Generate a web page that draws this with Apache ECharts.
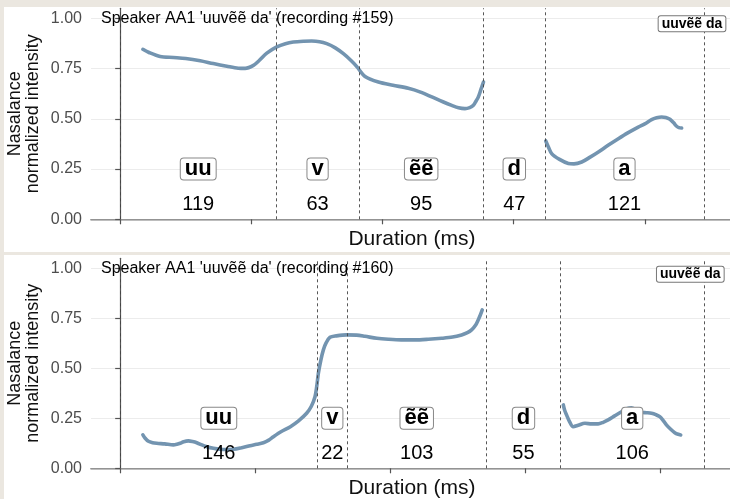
<!DOCTYPE html>
<html>
<head>
<meta charset="utf-8">
<script src="https://cdn.jsdelivr.net/npm/echarts@6/dist/echarts.min.js"></script>
<style>
html,body{margin:0;padding:0;background:#ebe7e0;}
#chart{width:730px;height:499px;}
</style>
</head>
<body>
<div id="chart"></div>
<script>
// ---------- data ----------
const segments = ['uu', 'v', 'ẽẽ', 'd', 'a'];
const p1Durations = [119, 63, 95, 47, 121];
const p2Durations = [146, 22, 103, 55, 106];
const p1Title = "Speaker AA1 'uuvẽẽ da' (recording #159)";
const p2Title = "Speaker AA1 'uuvẽẽ da' (recording #160)";
const wordLabel = 'uuvẽẽ da';
const yTicks = [0, 0.25, 0.5, 0.75, 1];
const xTicks = [0, 100, 200, 300, 400];

// panel 1 curve (ms, normalized intensity)
const p1aTimes = [17.3, 22, 30.5, 40.6, 50, 61, 71, 81.3, 90, 95.3, 101.6, 106, 111.8, 119.4, 126, 132, 140, 146, 152, 157.5, 164, 170.2, 176, 180.4, 186.7, 196.9, 208, 219.7, 229, 237.6, 246, 252.8, 258, 262.9, 266.5, 269.3, 271.5, 273.1, 275, 277];
const p1aValues = [0.846, 0.83, 0.81, 0.805, 0.80, 0.789, 0.775, 0.762, 0.752, 0.751, 0.766, 0.79, 0.827, 0.858, 0.874, 0.882, 0.886, 0.887, 0.884, 0.874, 0.853, 0.824, 0.79, 0.76, 0.711, 0.683, 0.667, 0.652, 0.633, 0.609, 0.585, 0.567, 0.555, 0.551, 0.556, 0.567, 0.59, 0.609, 0.645, 0.683];
const p1bTimes = [324.5, 326.5, 329, 335, 341.7, 346, 351.9, 358, 364.6, 372, 379.8, 387, 395, 400, 405.2, 409, 412.8, 416, 419.2, 422, 424.3, 426, 428.1];
const p1bValues = [0.39, 0.36, 0.327, 0.298, 0.278, 0.276, 0.285, 0.308, 0.335, 0.368, 0.401, 0.43, 0.459, 0.475, 0.496, 0.505, 0.509, 0.507, 0.498, 0.48, 0.463, 0.456, 0.454];

// panel 2 curve
const p2aTimes = [16.8, 18.5, 20.9, 24, 27.1, 33, 39.4, 42, 44.4, 47, 50.5, 53.5, 56.7, 60, 64.1, 69, 74, 79, 83.8, 90, 96.2, 101, 106, 110, 113.4, 119, 126, 132, 138, 141.5, 144.2, 145.5, 146.7, 148.5, 150.4, 152.5, 155.3, 160, 167.7, 175, 181.2, 190, 198.5, 208, 218.2, 228, 237.9, 246, 252.7, 257, 260.1, 263, 265, 266.5, 268];
const p2aValues = [0.167, 0.15, 0.135, 0.128, 0.125, 0.122, 0.117, 0.12, 0.125, 0.133, 0.137, 0.134, 0.128, 0.118, 0.108, 0.10, 0.095, 0.094, 0.095, 0.103, 0.113, 0.12, 0.128, 0.141, 0.158, 0.183, 0.208, 0.237, 0.275, 0.31, 0.358, 0.41, 0.475, 0.54, 0.592, 0.628, 0.655, 0.662, 0.667, 0.666, 0.66, 0.65, 0.645, 0.642, 0.642, 0.645, 0.65, 0.656, 0.667, 0.678, 0.692, 0.715, 0.742, 0.765, 0.792];
const p2bTimes = [328, 329, 330.4, 332.5, 335.3, 339, 344, 349, 353.8, 357.5, 361.2, 366, 371.1, 375, 378.5, 382, 385.9, 389.5, 393.3, 396.5, 399.4, 402, 404.3, 407.5, 410.5, 413, 414.9];
const p2bValues = [0.317, 0.29, 0.267, 0.235, 0.208, 0.215, 0.225, 0.222, 0.222, 0.23, 0.242, 0.262, 0.283, 0.298, 0.303, 0.292, 0.28, 0.278, 0.275, 0.268, 0.258, 0.238, 0.217, 0.195, 0.178, 0.17, 0.167];

// label positions (data units)
const segLabelY = 0.25;
const durLabelY = 0.072;
const wordLabelPos1 = [436, 0.973];
const wordLabelPos2 = [422, 0.97];

// ---------- build ----------
const FONT = '"Liberation Sans", Arial, Helvetica, sans-serif';
const LINE_COLOR = '#7394b0';

function boundaries(durs) {
  const b = [0];
  durs.forEach(d => b.push(b[b.length - 1] + d));
  return b;
}
function zip(t, v) { return t.map((x, i) => [x, v[i]]); }

function panel(idx, durs, pieces, wordPos) {
  const b = boundaries(durs);
  const total = b[b.length - 1];
  const mids = durs.map((d, i) => b[i] + d / 2);
  const lineData = [];
  pieces.forEach((p, k) => {
    if (k > 0) lineData.push([null, null]);
    zip(p[0], p[1]).forEach(pt => lineData.push(pt));
  });
  const xAxes = [{
    type: 'value', gridIndex: idx, min: -0.05 * total, max: 1.05 * total,
    name: 'Duration (ms)', nameLocation: 'middle', nameGap: 10, nameMoveOverlap: false,
    nameTextStyle: { fontFamily: FONT, fontSize: 21, color: '#111', lineHeight: 20 },
    axisLine: { show: true, onZero: false, lineStyle: { color: '#555', width: 1.2 } },
    axisTick: { show: true, length: 5, customValues: xTicks, lineStyle: { color: '#555', width: 1.2 } },
    axisLabel: { show: false },
    splitLine: { show: false }
  }, {
    type: 'value', gridIndex: idx, position: 'top', min: -0.05 * total, max: 1.05 * total,
    axisLine: { show: true, lineStyle: { color: '#a8a8a8', width: 1.5 } },
    axisTick: { show: false }, axisLabel: { show: false }, splitLine: { show: false }
  }];
  const yAxis = {
    type: 'value', gridIndex: idx, min: 0, max: 1.05, interval: 0.125,
    name: 'Nasalance\nnormalized intensity', nameLocation: 'middle', nameGap: 49, nameRotate: 90,
    nameMoveOverlap: false,
    nameTextStyle: { fontFamily: FONT, fontSize: 18, color: '#111', lineHeight: 18 },
    axisLine: { show: true, lineStyle: { color: '#555', width: 1.2 } },
    axisTick: { show: true, length: 5, customValues: yTicks, lineStyle: { color: '#555', width: 1.2 } },
    axisLabel: { show: true, customValues: yTicks, margin: 9, fontFamily: FONT, fontSize: 16, color: '#4d4d4d',
      formatter: v => v.toFixed(2) },
    splitLine: { show: true, lineStyle: { color: '#ececec', width: 1 } }
  };
  const series = [{
    type: 'line', xAxisIndex: idx * 2, yAxisIndex: idx, data: lineData,
    smooth: 0.3, showSymbol: false, connectNulls: false,
    lineStyle: { color: LINE_COLOR, width: 3.6, cap: 'round', join: 'round' },
    z: 3,
    markLine: {
      silent: true, symbol: 'none', animation: false,
      label: { show: false },
      lineStyle: { color: '#444', width: 0.9, type: [3, 3] },
      data: b.map(x => ({ xAxis: x }))
    }
  }, {
    type: 'scatter', xAxisIndex: idx * 2, yAxisIndex: idx, symbolSize: 0, z: 6,
    itemStyle: { opacity: 1 },
    data: mids.map((m, i) => ({ value: [m, segLabelY], name: segments[i] })),
    label: {
      show: true, position: 'inside', formatter: p => p.name,
      fontFamily: FONT, fontSize: 22, fontWeight: 'bold', color: '#000',
      backgroundColor: '#fff', borderColor: '#888', borderWidth: 1, borderRadius: 3,
      padding: [1, 4, 0, 4], lineHeight: 20
    }
  }, {
    type: 'scatter', xAxisIndex: idx * 2, yAxisIndex: idx, symbolSize: 0, z: 6,
    itemStyle: { opacity: 1 },
    data: mids.map((m, i) => ({ value: [m, durLabelY], name: String(durs[i]) })),
    label: {
      show: true, position: 'inside', formatter: p => p.name,
      fontFamily: FONT, fontSize: 20, color: '#000'
    }
  }, {
    type: 'scatter', xAxisIndex: idx * 2, yAxisIndex: idx, symbolSize: 0, z: 6,
    itemStyle: { opacity: 1 },
    data: [{ value: wordPos, name: wordLabel }],
    label: {
      show: true, position: 'inside', formatter: p => p.name,
      fontFamily: FONT, fontSize: 14, fontWeight: 'bold', color: '#000',
      backgroundColor: '#fff', borderColor: '#777', borderWidth: 1, borderRadius: 2,
      padding: [1, 3, 0, 3], lineHeight: 14
    }
  }];
  return { xAxes, yAxis, series };
}

const P1 = panel(0, p1Durations, [[p1aTimes, p1aValues], [p1bTimes, p1bValues]], wordLabelPos1);
const P2 = panel(1, p2Durations, [[p2aTimes, p2aValues], [p2bTimes, p2bValues]], wordLabelPos2);

const chart = echarts.init(document.getElementById('chart'), null, { renderer: 'canvas' });
chart.setOption({
  animation: false,
  backgroundColor: '#ebe7e0',
  graphic: [
    { type: 'rect', shape: { x: 4, y: 7, width: 730, height: 245 }, style: { fill: '#fff' }, z: -10, silent: true },
    { type: 'rect', shape: { x: 4, y: 255, width: 730, height: 250 }, style: { fill: '#fff' }, z: -10, silent: true }
  ],
  title: [
    { text: p1Title, left: 101, top: 11, padding: 0,
      textStyle: { fontFamily: FONT, fontSize: 16, fontWeight: 'normal', color: '#000' } },
    { text: p2Title, left: 101, top: 260.5, padding: 0,
      textStyle: { fontFamily: FONT, fontSize: 16, fontWeight: 'normal', color: '#000' } }
  ],
  grid: [
    { left: 91, top: 8.3, width: 642, height: 211, containLabel: false, outerBoundsMode: 'none' },
    { left: 91, top: 258.3, width: 642, height: 210, containLabel: false, outerBoundsMode: 'none' }
  ],
  xAxis: P1.xAxes.concat(P2.xAxes),
  yAxis: [P1.yAxis, P2.yAxis],
  series: P1.series.concat(P2.series)
});
</script>
</body>
</html>
